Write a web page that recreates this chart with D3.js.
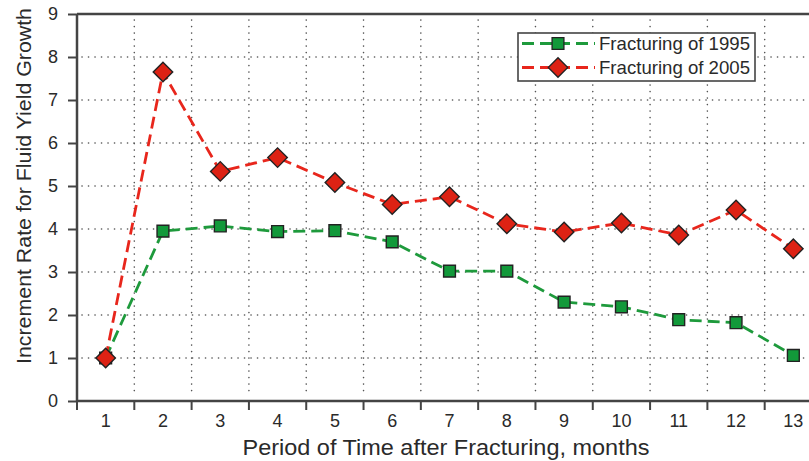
<!DOCTYPE html>
<html>
<head>
<meta charset="utf-8">
<script src="https://cdn.jsdelivr.net/npm/d3@7"></script>
<style>
  html, body { margin: 0; padding: 0; background: #fff; overflow: hidden; }
  svg { display: block; font-family: "Liberation Sans", Arial, sans-serif; }
  .grid line { stroke: #555; stroke-width: 1.6; stroke-dasharray: 0.1 6.4; stroke-linecap: round; }
</style>
</head>
<body>
<svg id="chart" width="809" height="461"></svg>
<script>
// months after fracturing
const months = [1, 2, 3, 4, 5, 6, 7, 8, 9, 10, 11, 12, 13];
const yTicks = [0, 1, 2, 3, 4, 5, 6, 7, 8, 9];
const frac1995 = [1.0, 3.95, 4.07, 3.94, 3.96, 3.7, 3.02, 3.02, 2.3, 2.19, 1.89, 1.82, 1.06];
const frac2005 = [1.0, 7.65, 5.34, 5.66, 5.08, 4.57, 4.75, 4.12, 3.93, 4.14, 3.86, 4.44, 3.54];
const seriesNames = ['Fracturing of 1995', 'Fracturing of 2005'];

const svg = d3.select('#chart');
const mLeft = 77, mRight = 822, mTop = 14, mBottom = 401;
const textColor = '#2a2a2a';
const fontFam = '"Liberation Sans", Arial, sans-serif';

const x = d3.scaleBand().domain(months).range([mLeft, mRight]);
const y = d3.scaleLinear().domain([0, 9]).range([mBottom, mTop]);

// grid
const grid = svg.append('g').attr('class', 'grid');
grid.selectAll('.gy')
    .data(yTicks.filter(d => d > 0 && d < 9))
    .join('line')
    .attr('x1', mLeft + 5).attr('x2', mRight)
    .attr('y1', d => y(d)).attr('y2', d => y(d));
grid.selectAll('.gx')
    .data(months.slice(1))
    .join('line')
    .attr('x1', d => x(d)).attr('x2', d => x(d))
    .attr('y1', mTop + 6).attr('y2', mBottom - 4);

// axes
const axisColor = '#444';
const gx = svg.append('g')
    .attr('transform', `translate(0,${mBottom})`)
    .call(d3.axisBottom(x).tickSize(0).tickPadding(13));
gx.attr('font-size', 18).attr('font-family', fontFam);
gx.select('.domain').remove();
gx.selectAll('text').attr('fill', textColor);
// x ticks at band boundaries
svg.append('g').selectAll('line')
    .data(months.concat([14]))
    .join('line')
    .attr('x1', d => d === 14 ? mRight : x(d)).attr('x2', d => d === 14 ? mRight : x(d))
    .attr('y1', mBottom).attr('y2', mBottom + 9)
    .attr('stroke', axisColor).attr('stroke-width', 2);

const gy = svg.append('g')
    .attr('transform', `translate(${mLeft},0)`)
    .call(d3.axisLeft(y).tickValues(yTicks).tickSize(9).tickPadding(10));
gy.attr('font-size', 18).attr('font-family', fontFam);
gy.select('.domain').remove();
gy.selectAll('line').attr('stroke', axisColor).attr('stroke-width', 2);
gy.selectAll('text').attr('fill', textColor);

svg.append('line').attr('x1', mLeft).attr('x2', mLeft).attr('y1', mTop).attr('y2', mBottom + 1)
    .attr('stroke', axisColor).attr('stroke-width', 2.5);
svg.append('line').attr('x1', mLeft).attr('x2', 809).attr('y1', mBottom).attr('y2', mBottom)
    .attr('stroke', axisColor).attr('stroke-width', 2.5);
svg.append('line').attr('x1', mLeft).attr('x2', 809).attr('y1', mTop).attr('y2', mTop)
    .attr('stroke', axisColor).attr('stroke-width', 2.5);

// titles
svg.append('text')
    .attr('x', 446).attr('y', 455)
    .attr('text-anchor', 'middle')
    .attr('font-size', 22).attr('fill', textColor)
    .attr('textLength', 407).attr('lengthAdjust', 'spacingAndGlyphs')
    .text('Period of Time after Fracturing, months');
svg.append('text')
    .attr('transform', 'translate(31,186) rotate(-90)')
    .attr('text-anchor', 'middle')
    .attr('font-size', 19.5).attr('fill', textColor)
    .attr('textLength', 356).attr('lengthAdjust', 'spacingAndGlyphs')
    .text('Increment Rate for Fluid Yield Growth');

// series
const cx = d => x(d) + x.bandwidth() / 2;
const series = [
    { name: seriesNames[0], values: frac1995, line: '#1e9a3c', fill: '#12993a', rot: 0, size: 140 },
    { name: seriesNames[1], values: frac2005, line: '#e8261c', fill: '#dd2214', rot: 45, size: 190 }
];
const line = d3.line().x((d, i) => cx(months[i])).y(d => y(d));

series.forEach(s => {
    svg.append('path')
        .attr('d', line(s.values))
        .attr('fill', 'none')
        .attr('stroke', s.line)
        .attr('stroke-width', 2.8)
        .attr('stroke-dasharray', '12 6');
});
series.forEach(s => {
    svg.append('g').selectAll('path')
        .data(s.values)
        .join('path')
        .attr('transform', (d, i) => `translate(${cx(months[i])},${y(d)}) rotate(${s.rot})`)
        .attr('d', d3.symbol(d3.symbolSquare, s.size))
        .attr('fill', s.fill)
        .attr('stroke', '#222')
        .attr('stroke-width', 1.4);
});

// legend
const lg = svg.append('g').attr('transform', 'translate(518,33)');
lg.append('rect').attr('width', 237).attr('height', 48)
    .attr('fill', '#fff').attr('stroke', '#444').attr('stroke-width', 1.6);
series.forEach((s, i) => {
    const yy = 10.5 + i * 24;
    lg.append('line').attr('x1', 4).attr('x2', 77).attr('y1', yy).attr('y2', yy)
        .attr('stroke', s.line).attr('stroke-width', 2.8).attr('stroke-dasharray', '12 6');
    lg.append('path').attr('transform', `translate(40,${yy}) rotate(${s.rot})`)
        .attr('d', d3.symbol(d3.symbolSquare, s.size))
        .attr('fill', s.fill).attr('stroke', '#222').attr('stroke-width', 1.3);
    lg.append('text').attr('x', 81).attr('y', yy + 6.5)
        .attr('font-size', 19).attr('fill', textColor)
        .attr('textLength', 151).attr('lengthAdjust', 'spacingAndGlyphs')
        .text(s.name);
});
</script>
</body>
</html>
